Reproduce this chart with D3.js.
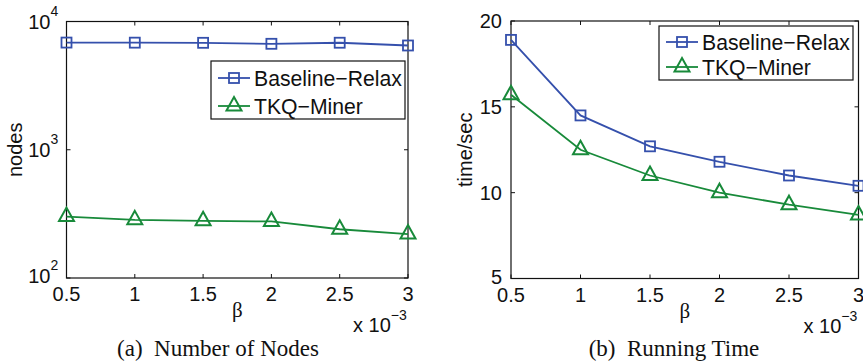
<!DOCTYPE html>
<html>
<head>
<meta charset="utf-8">
<script src="https://cdn.jsdelivr.net/npm/d3@7"></script>
<style>
  body { margin: 0; background: #fff; }
  svg { display: block; }
  text { font-family: "Liberation Sans", Arial, sans-serif; fill: #111; }
  .serif { font-family: "Liberation Serif", "Times New Roman", serif; }
</style>
</head>
<body>
<div id="chart"></div>
<script>
// beta values (x 10^-3)
const betas = [0.5, 1, 1.5, 2, 2.5, 3];
const seriesNames = ["Baseline\u2212Relax", "TKQ\u2212Miner"];

// (a) number of nodes, log scale
const nodesBaseline = [6850, 6840, 6820, 6700, 6830, 6500];
const nodesTKQ = [301, 284, 279, 276, 240, 220];

// (b) running time in seconds
const timeBaseline = [18.9, 14.5, 12.7, 11.8, 11.0, 10.4];
const timeTKQ = [15.7, 12.5, 11.0, 10.0, 9.3, 8.7];

const xTicks = [0.5, 1, 1.5, 2, 2.5, 3];
const logTicks = [100, 1000, 10000];
const timeTicks = [5, 10, 15, 20];

const blue = "#3550ac";
const green = "#188a3a";

const svg = d3.select("#chart").append("svg")
    .attr("width", 863)
    .attr("height", 364);

function drawPanel(opt) {
    const x = d3.scaleLinear().domain([0.5, 3]).range([opt.left, opt.right]);
    const y = opt.log
        ? d3.scaleLog().domain([100, 10000]).range([opt.bottom, opt.top])
        : d3.scaleLinear().domain([5, 20]).range([opt.bottom, opt.top]);

    const g = svg.append("g");
    const tickLen = 4;

    // ticks, inward on all four sides
    xTicks.forEach(t => {
        g.append("line").attr("x1", x(t)).attr("x2", x(t))
            .attr("y1", opt.bottom).attr("y2", opt.bottom - tickLen)
            .attr("stroke", "#111");
        g.append("line").attr("x1", x(t)).attr("x2", x(t))
            .attr("y1", opt.top).attr("y2", opt.top + tickLen)
            .attr("stroke", "#111");
        g.append("text")
            .attr("x", x(t)).attr("y", opt.bottom + 23)
            .attr("text-anchor", "middle")
            .style("font-size", "20px")
            .text(t);
    });
    opt.yTicks.forEach((t, i) => {
        g.append("line").attr("x1", opt.left).attr("x2", opt.left + tickLen)
            .attr("y1", y(t)).attr("y2", y(t)).attr("stroke", "#111");
        g.append("line").attr("x1", opt.right).attr("x2", opt.right - tickLen)
            .attr("y1", y(t)).attr("y2", y(t)).attr("stroke", "#111");
        // lowest label sits a little higher, as in the original
        const dy = i === 0 ? 5 : 7;
        if (opt.log) {
            g.append("text")
                .attr("x", opt.left - 16).attr("y", y(t) + dy)
                .attr("text-anchor", "end")
                .style("font-size", "20px")
                .text("10");
            g.append("text")
                .attr("x", opt.left - 16).attr("y", y(t) + dy - 13)
                .style("font-size", "14px")
                .text(Math.round(Math.log10(t)));
        } else {
            g.append("text")
                .attr("x", opt.left - 9).attr("y", y(t) + dy)
                .attr("text-anchor", "end")
                .style("font-size", "20px")
                .text(t);
        }
    });

    // axes box
    g.append("rect")
        .attr("x", opt.left).attr("y", opt.top)
        .attr("width", opt.right - opt.left).attr("height", opt.bottom - opt.top)
        .attr("fill", "none").attr("stroke", "#111").attr("stroke-width", 1.2);

    // y axis title
    g.append("text")
        .attr("transform", "translate(" + opt.yTitleX + "," + ((opt.top + opt.bottom) / 2) + ")rotate(-90)")
        .attr("text-anchor", "middle")
        .style("font-size", "20px")
        .text(opt.yTitle);

    // x axis title and multiplier
    g.append("text").attr("class", "serif")
        .attr("x", (opt.left + opt.right) / 2).attr("y", opt.bottom + 39)
        .attr("text-anchor", "middle")
        .style("font-size", "21px")
        .text("\u03b2");
    const mult = g.append("text")
        .attr("x", opt.right - 55).attr("y", opt.bottom + 54)
        .style("font-size", "20px");
    mult.append("tspan").text("x 10");
    mult.append("tspan").attr("dy", -12).style("font-size", "14px").text("\u22123");

    // caption
    g.append("text").attr("class", "serif")
        .attr("x", opt.captionX).attr("y", 356)
        .attr("text-anchor", "middle")
        .style("font-size", "23px")
        .attr("xml:space", "preserve")
        .text(opt.caption);

    // lines and markers
    const line = d3.line().x((d, i) => x(betas[i])).y(d => y(d));
    const series = [
        { values: opt.s1, color: blue, marker: "square" },
        { values: opt.s2, color: green, marker: "triangle" }
    ];
    series.forEach(s => {
        g.append("path").datum(s.values)
            .attr("d", line).attr("fill", "none")
            .attr("stroke", s.color).attr("stroke-width", 1.8);
        s.values.forEach((v, i) => drawMarker(g, s.marker, x(betas[i]), y(v), s.color));
    });

    // legend
    const lg = opt.legend;
    g.append("rect")
        .attr("x", lg.x).attr("y", lg.y).attr("width", lg.w).attr("height", lg.h)
        .attr("fill", "#fff").attr("stroke", "#111").attr("stroke-width", 1.2);
    series.forEach((s, i) => {
        const cy = lg.y + lg.row0 + i * lg.rowGap;
        g.append("line")
            .attr("x1", lg.x + 7).attr("x2", lg.x + 39)
            .attr("y1", cy).attr("y2", cy)
            .attr("stroke", s.color).attr("stroke-width", 1.8);
        drawMarker(g, s.marker, lg.x + 23, cy, s.color);
        g.append("text")
            .attr("x", lg.x + 43).attr("y", cy + 7.5)
            .style("font-size", "21.2px")
            .text(seriesNames[i]);
    });
}

function drawMarker(g, type, cx, cy, color) {
    if (type === "square") {
        g.append("rect")
            .attr("x", cx - 5).attr("y", cy - 5).attr("width", 10).attr("height", 10)
            .attr("fill", "none").attr("stroke", color).attr("stroke-width", 1.8);
    } else {
        const p = d3.path();
        p.moveTo(cx, cy - 9);
        p.lineTo(cx + 7.5, cy + 4.5);
        p.lineTo(cx - 7.5, cy + 4.5);
        p.closePath();
        g.append("path")
            .attr("d", p.toString())
            .attr("fill", "none").attr("stroke", color).attr("stroke-width", 2);
    }
}

drawPanel({
    left: 66.5, right: 408, top: 21.5, bottom: 278,
    log: true, yTicks: logTicks,
    s1: nodesBaseline, s2: nodesTKQ,
    yTitle: "nodes", yTitleX: 22,
    caption: "(a)  Number of Nodes", captionX: 218,
    legend: { x: 211, y: 61, w: 194, h: 58, row0: 17, rowGap: 28 }
});

drawPanel({
    left: 511, right: 858.5, top: 21, bottom: 278.5,
    log: false, yTicks: timeTicks,
    s1: timeBaseline, s2: timeTKQ,
    yTitle: "time/sec", yTitleX: 472,
    caption: "(b)  Running Time", captionX: 674,
    legend: { x: 659, y: 26, w: 194, h: 54, row0: 16, rowGap: 25 }
});
</script>
</body>
</html>
